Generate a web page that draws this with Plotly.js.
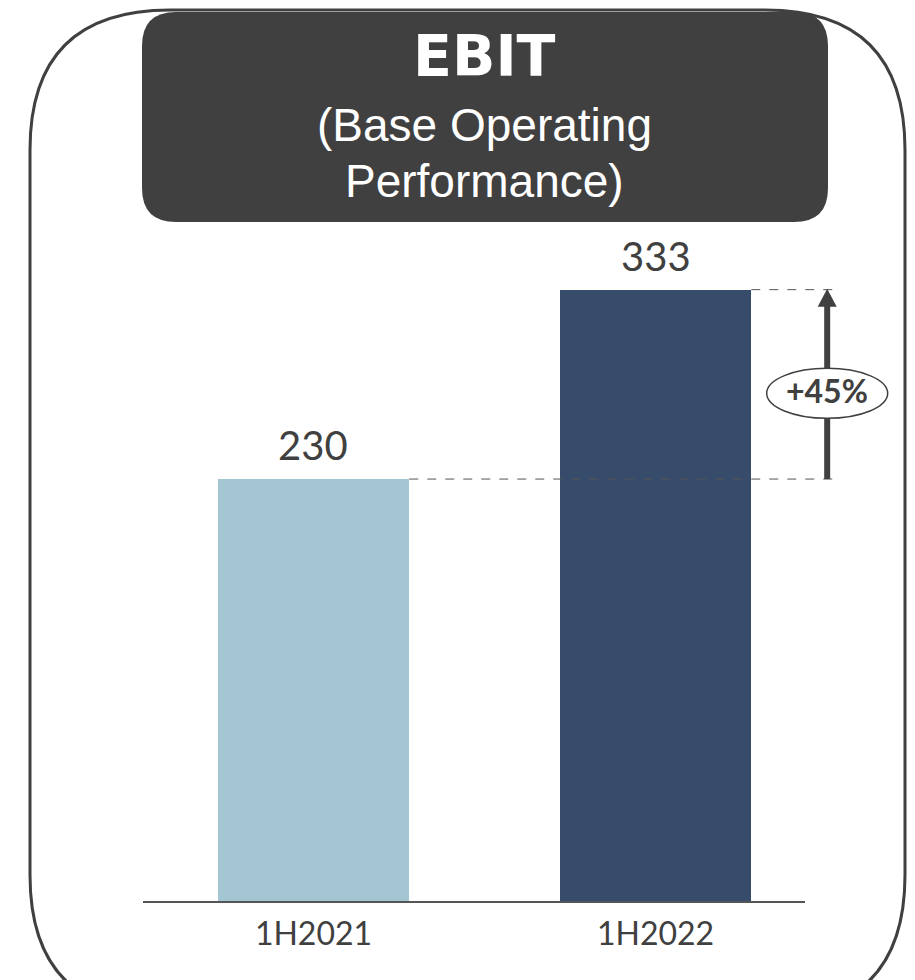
<!DOCTYPE html>
<html>
<head>
<meta charset="utf-8">
<script src="https://cdn.plot.ly/plotly-3.0.1.min.js"></script>
<style>
html,body{margin:0;padding:0;background:#fff;}
#chart{width:915px;height:980px;}
</style>
</head>
<body>
<div id="chart"></div>
<script>
// ---- data ----
const categories = ['1H2021', '1H2022'];
const ebitValues = [230, 333];
const barColors = ['#A3C6D2', '#374C6A'];
const titleMain = 'EBIT';
const titleSubLines = ['(Base Operating', 'Performance)'];

// ---- layout geometry ----
const FIG_W = 915, FIG_H = 980;
const M = {l: 143, r: 10, t: 240, b: 78};
const PW = FIG_W - M.l - M.r, PH = FIG_H - M.t - M.b;
const fx = px => (px - M.l) / PW;           // pixel -> paper x
const fy = py => (FIG_H - M.b - py) / PH;   // pixel -> paper y
const P = (px, py) => fx(px).toFixed(5) + ',' + fy(py).toFixed(5);

function roundRect(x0, y0, x1, y1, r) {
  return 'M' + P(x0 + r, y0) + ' L' + P(x1 - r, y0) +
    ' Q' + P(x1, y0) + ' ' + P(x1, y0 + r) +
    ' L' + P(x1, y1 - r) +
    ' Q' + P(x1, y1) + ' ' + P(x1 - r, y1) +
    ' L' + P(x0 + r, y1) +
    ' Q' + P(x0, y1) + ' ' + P(x0, y1 - r) +
    ' L' + P(x0, y0 + r) +
    ' Q' + P(x0, y0) + ' ' + P(x0 + r, y0) + ' Z';
}

const dark = '#404040';
const barWidth = 0.56;
const xRange = [-0.4985, 1.7295];
const arrowX = 1.502;
const growthPct = Math.round((ebitValues[1] / ebitValues[0] - 1) * 100);
const growthLabel = '+' + growthPct + '%';
const midVal = (ebitValues[0] + ebitValues[1]) / 2;
const textFont = 'Lato, "Open Sans", sans-serif';
const subFont = '"Liberation Sans", Arial, sans-serif';

const trace = {
  type: 'bar',
  x: categories,
  y: ebitValues,
  width: barWidth,
  marker: {color: barColors, line: {width: 0}},
  hoverinfo: 'skip'
};

const shapes = [
  // outer rounded frame
  {type: 'path', xref: 'paper', yref: 'paper', path: roundRect(30, 10, 905, 1015, 140),
   line: {color: dark, width: 3}, fillcolor: 'rgba(0,0,0,0)', layer: 'below'},
  // title box
  {type: 'path', xref: 'paper', yref: 'paper', path: roundRect(142, 12, 828, 222, 34),
   line: {width: 0}, fillcolor: '#404040', layer: 'above'},
  // baseline
  {type: 'line', xref: 'paper', yref: 'paper', x0: 0, x1: fx(805), y0: 0, y1: 0,
   line: {color: '#555555', width: 2}},
  // dashed guides
  {type: 'line', xref: 'x', yref: 'y', x0: 0 + barWidth / 2, x1: 1.525, y0: ebitValues[0], y1: ebitValues[0],
   line: {color: '#555555', width: 1, dash: 'dash'}},
  {type: 'line', xref: 'x', yref: 'y', x0: 1 + barWidth / 2, x1: 1.525, y0: ebitValues[1], y1: ebitValues[1],
   line: {color: '#555555', width: 1, dash: 'dash'}},
  // arrow shaft
  {type: 'line', xref: 'x', yref: 'y', x0: arrowX, x1: arrowX, y0: ebitValues[0], y1: ebitValues[1] - 5,
   line: {color: dark, width: 6}},
  // arrow head
  {type: 'path', xref: 'x', yref: 'y', xsizemode: 'pixel', ysizemode: 'pixel',
   xanchor: arrowX, yanchor: ebitValues[1], path: 'M-9.5,-17 L9.5,-17 L0,1 Z',
   fillcolor: dark, line: {width: 0}},
  // ellipse
  {type: 'circle', xref: 'x', yref: 'y', xsizemode: 'pixel', ysizemode: 'pixel',
   xanchor: arrowX, yanchor: midVal, x0: -60.5, x1: 60.5, y0: -34, y1: 16,
   fillcolor: '#ffffff', line: {color: dark, width: 1.5}}
];

const valueAnnotations = categories.map((c, i) => ({
  xref: 'x', yref: 'y', x: c, y: ebitValues[i], text: String(ebitValues[i]),
  showarrow: false, xanchor: 'center', yanchor: 'bottom', yshift: 8,
  font: {family: textFont, size: 40, color: dark}
}));

const annotations = [
  {xref: 'paper', yref: 'paper', x: fx(484), y: fy(56), text: '<b>' + titleMain + '</b>', showarrow: false,
   font: {family: '"DejaVu Sans", sans-serif', size: 57, color: '#ffffff'}, xanchor: 'center', yanchor: 'middle'},
  {xref: 'paper', yref: 'paper', x: fx(484), y: fy(125), text: titleSubLines[0], showarrow: false,
   font: {family: subFont, size: 46, color: '#ffffff'}, xanchor: 'center', yanchor: 'middle'},
  {xref: 'paper', yref: 'paper', x: fx(484), y: fy(181), text: titleSubLines[1], showarrow: false,
   font: {family: subFont, size: 46, color: '#ffffff'}, xanchor: 'center', yanchor: 'middle'},
  {xref: 'x', yref: 'y', x: arrowX, y: midVal, yshift: -6, text: '<b>' + growthLabel + '</b>', showarrow: false,
   font: {family: textFont, size: 32, color: dark}, xanchor: 'center', yanchor: 'middle'}
].concat(valueAnnotations);

const layout = {
  width: FIG_W, height: FIG_H,
  margin: M,
  paper_bgcolor: '#ffffff', plot_bgcolor: 'rgba(0,0,0,0)',
  showlegend: false,
  bargap: 0,
  xaxis: {type: 'category', range: xRange, showline: false, showgrid: false, zeroline: false,
          ticks: '', ticklabelstandoff: 10,
          tickfont: {family: textFont, size: 32, color: dark}, fixedrange: true},
  yaxis: {range: [0, 360], visible: false, showgrid: false, zeroline: false, fixedrange: true},
  shapes: shapes,
  annotations: annotations,
  hovermode: false
};

Plotly.newPlot('chart', [trace], layout, {displayModeBar: false, staticPlot: true});
</script>
</body>
</html>
